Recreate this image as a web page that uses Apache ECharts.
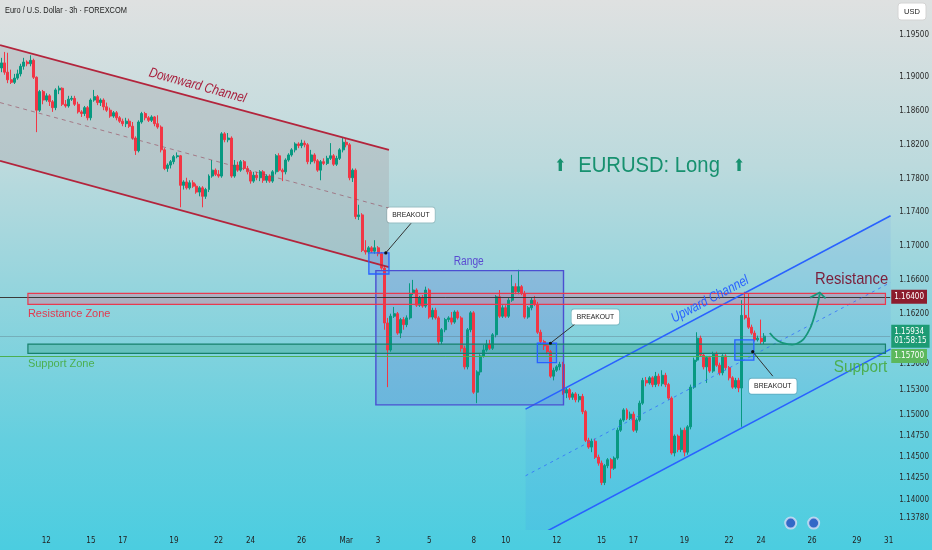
<!DOCTYPE html>
<html><head><meta charset="utf-8">
<script src="https://cdn.jsdelivr.net/npm/echarts@6/dist/echarts.min.js"></script>
<style>html,body{margin:0;padding:0;background:#fff}#c{width:932px;height:550px}</style>
</head><body><div id="c"></div>
<script>
// ---------- data ----------
const candles = [ // [open, close, low, high], 3h bars starting Tue Feb 10 06:00
[1.1911,1.1917,1.1906,1.1923],[1.1917,1.1906,1.1903,1.1930],[1.1906,1.1897,1.1893,1.1929],[1.1897,1.1894,1.1892,1.1909],[1.1894,1.1899,1.1892,1.1904],
[1.1899,1.1904,1.1897,1.1909],[1.1904,1.1913,1.1901,1.1916],[1.1913,1.1918,1.1909,1.1923],[1.1918,1.1916,1.1913,1.1920],[1.1916,1.1920,1.1913,1.1926],
[1.1920,1.1900,1.1898,1.1922],[1.1900,1.1861,1.1835,1.1901],[1.1861,1.1883,1.1859,1.1885],[1.1883,1.1873,1.1868,1.1885],[1.1873,1.1878,1.1871,1.1881],
[1.1878,1.1871,1.1866,1.1880],[1.1871,1.1864,1.1859,1.1873],[1.1864,1.1885,1.1861,1.1887],[1.1885,1.1887,1.1880,1.1890],[1.1887,1.1868,1.1866,1.1888],
[1.1868,1.1866,1.1864,1.1873],[1.1866,1.1874,1.1864,1.1878],[1.1874,1.1875,1.1872,1.1878],[1.1875,1.1868,1.1866,1.1878],[1.1868,1.1859,1.1857,1.1871],
[1.1859,1.1857,1.1853,1.1861],[1.1857,1.1864,1.1854,1.1866],[1.1864,1.1852,1.1849,1.1866],[1.1852,1.1873,1.1849,1.1875],[1.1873,1.1877,1.1871,1.1885],
[1.1877,1.1870,1.1867,1.1879],[1.1870,1.1873,1.1866,1.1875],[1.1873,1.1865,1.1861,1.1875],[1.1865,1.1861,1.1859,1.1870],[1.1861,1.1854,1.1852,1.1864],
[1.1854,1.1858,1.1852,1.1860],[1.1858,1.1852,1.1849,1.1860],[1.1852,1.1848,1.1846,1.1854],[1.1848,1.1845,1.1842,1.1851],[1.1845,1.1848,1.1841,1.1852],
[1.1848,1.1842,1.1840,1.1851],[1.1842,1.1828,1.1826,1.1847],[1.1828,1.1813,1.1808,1.1830],[1.1813,1.1847,1.1811,1.1849],[1.1847,1.1857,1.1845,1.1859],
[1.1857,1.1852,1.1849,1.1859],[1.1852,1.1849,1.1847,1.1854],[1.1849,1.1853,1.1847,1.1855],[1.1853,1.1845,1.1842,1.1854],[1.1845,1.1841,1.1839,1.1855],
[1.1841,1.1814,1.1811,1.1843],[1.1814,1.1792,1.1790,1.1816],[1.1792,1.1796,1.1788,1.1798],[1.1796,1.1800,1.1792,1.1802],[1.1800,1.1806,1.1797,1.1808],
[1.1806,1.1807,1.1804,1.1811],[1.1807,1.1772,1.1746,1.1808],[1.1772,1.1776,1.1767,1.1778],[1.1776,1.1769,1.1767,1.1781],[1.1769,1.1775,1.1767,1.1778],
[1.1775,1.1771,1.1769,1.1778],[1.1771,1.1764,1.1762,1.1774],[1.1764,1.1769,1.1759,1.1771],[1.1769,1.1759,1.1746,1.1771],[1.1759,1.1767,1.1756,1.1769],
[1.1767,1.1783,1.1764,1.1785],[1.1783,1.1790,1.1781,1.1802],[1.1790,1.1785,1.1783,1.1792],[1.1785,1.1783,1.1781,1.1790],[1.1783,1.1833,1.1781,1.1835],
[1.1833,1.1826,1.1823,1.1835],[1.1826,1.1828,1.1823,1.1834],[1.1828,1.1783,1.1781,1.1830],[1.1783,1.1796,1.1781,1.1802],[1.1796,1.1790,1.1788,1.1800],
[1.1790,1.1800,1.1788,1.1802],[1.1800,1.1792,1.1790,1.1802],[1.1792,1.1788,1.1785,1.1795],[1.1788,1.1777,1.1774,1.1790],[1.1777,1.1784,1.1775,1.1788],
[1.1784,1.1781,1.1778,1.1788],[1.1781,1.1788,1.1777,1.1790],[1.1788,1.1778,1.1775,1.1790],[1.1778,1.1783,1.1775,1.1785],[1.1783,1.1777,1.1775,1.1785],
[1.1777,1.1788,1.1775,1.1790],[1.1788,1.1807,1.1785,1.1809],[1.1807,1.1790,1.1788,1.1810],[1.1790,1.1788,1.1777,1.1792],[1.1788,1.1802,1.1785,1.1804],
[1.1802,1.1808,1.1800,1.1810],[1.1808,1.1814,1.1806,1.1816],[1.1814,1.1821,1.1811,1.1823],[1.1821,1.1819,1.1816,1.1823],[1.1819,1.1822,1.1816,1.1826],
[1.1822,1.1820,1.1817,1.1825],[1.1820,1.1800,1.1797,1.1822],[1.1800,1.1808,1.1797,1.1814],[1.1808,1.1801,1.1798,1.1810],[1.1801,1.1790,1.1788,1.1803],
[1.1790,1.1800,1.1778,1.1802],[1.1800,1.1798,1.1796,1.1804],[1.1798,1.1804,1.1796,1.1807],[1.1804,1.1807,1.1802,1.1822],[1.1807,1.1797,1.1795,1.1809],
[1.1797,1.1804,1.1795,1.1807],[1.1804,1.1814,1.1802,1.1816],[1.1814,1.1823,1.1811,1.1828],[1.1823,1.1820,1.1817,1.1828],[1.1820,1.1781,1.1778,1.1822],
[1.1781,1.1790,1.1776,1.1792],[1.1790,1.1735,1.1732,1.1792],[1.1735,1.1737,1.1731,1.1749],[1.1737,1.1695,1.1693,1.1739],[1.1695,1.1693,1.1690,1.1707],
[1.1693,1.1698,1.1691,1.1700],[1.1698,1.1694,1.1692,1.1700],[1.1694,1.1698,1.1691,1.1707],[1.1698,1.1691,1.1688,1.1700],[1.1691,1.1674,1.1672,1.1693],
[1.1674,1.1609,1.1601,1.1677],[1.1609,1.1577,1.1533,1.1615],[1.1577,1.1617,1.1575,1.1620],[1.1617,1.1620,1.1615,1.1628],[1.1620,1.1597,1.1595,1.1622],
[1.1597,1.1613,1.1591,1.1615],[1.1613,1.1607,1.1601,1.1616],[1.1607,1.1615,1.1604,1.1618],[1.1615,1.1644,1.1613,1.1656],[1.1644,1.1648,1.1642,1.1660],
[1.1648,1.1630,1.1628,1.1650],[1.1630,1.1639,1.1628,1.1641],[1.1639,1.1629,1.1627,1.1642],[1.1629,1.1648,1.1627,1.1652],[1.1648,1.1616,1.1614,1.1650],
[1.1616,1.1624,1.1613,1.1627],[1.1624,1.1615,1.1613,1.1627],[1.1615,1.1587,1.1583,1.1617],[1.1587,1.1601,1.1584,1.1603],[1.1601,1.1613,1.1598,1.1615],
[1.1613,1.1615,1.1610,1.1617],[1.1615,1.1610,1.1607,1.1622],[1.1610,1.1622,1.1608,1.1624],[1.1622,1.1615,1.1613,1.1624],[1.1615,1.1579,1.1575,1.1617],
[1.1579,1.1557,1.1554,1.1582],[1.1557,1.1601,1.1554,1.1603],[1.1601,1.1621,1.1598,1.1623],[1.1621,1.1527,1.1525,1.1623],[1.1527,1.1551,1.1514,1.1553],
[1.1551,1.1570,1.1547,1.1572],[1.1570,1.1577,1.1568,1.1583],[1.1577,1.1584,1.1575,1.1589],[1.1584,1.1579,1.1577,1.1589],[1.1579,1.1595,1.1577,1.1597],
[1.1595,1.1640,1.1592,1.1642],[1.1640,1.1617,1.1615,1.1648],[1.1617,1.1627,1.1615,1.1630],[1.1627,1.1617,1.1615,1.1630],[1.1617,1.1636,1.1615,1.1639],
[1.1636,1.1652,1.1634,1.1666],[1.1652,1.1646,1.1643,1.1656],[1.1646,1.1652,1.1643,1.1672],[1.1652,1.1644,1.1642,1.1654],[1.1644,1.1616,1.1614,1.1647],
[1.1616,1.1627,1.1614,1.1629],[1.1627,1.1636,1.1624,1.1639],[1.1636,1.1631,1.1629,1.1641],[1.1631,1.1598,1.1596,1.1634],[1.1598,1.1587,1.1584,1.1601],
[1.1587,1.1582,1.1577,1.1589],[1.1582,1.1575,1.1572,1.1584],[1.1575,1.1546,1.1544,1.1577],[1.1546,1.1553,1.1541,1.1556],[1.1553,1.1557,1.1551,1.1559],
[1.1557,1.1560,1.1553,1.1563],[1.1560,1.1526,1.1524,1.1563],[1.1526,1.1530,1.1520,1.1532],[1.1530,1.1521,1.1518,1.1532],[1.1521,1.1525,1.1518,1.1527],
[1.1525,1.1518,1.1515,1.1527],[1.1518,1.1522,1.1515,1.1525],[1.1522,1.1504,1.1501,1.1525],[1.1504,1.1470,1.1468,1.1506],[1.1470,1.1462,1.1460,1.1473],
[1.1462,1.1469,1.1456,1.1472],[1.1469,1.1450,1.1448,1.1472],[1.1450,1.1443,1.1440,1.1453],[1.1443,1.1420,1.1417,1.1446],[1.1420,1.1440,1.1417,1.1442],
[1.1440,1.1447,1.1437,1.1449],[1.1447,1.1437,1.1425,1.1449],[1.1437,1.1449,1.1435,1.1451],[1.1449,1.1482,1.1447,1.1485],[1.1482,1.1494,1.1480,1.1496],
[1.1494,1.1506,1.1492,1.1508],[1.1506,1.1496,1.1494,1.1508],[1.1496,1.1501,1.1494,1.1504],[1.1501,1.1482,1.1480,1.1504],[1.1482,1.1494,1.1479,1.1496],
[1.1494,1.1514,1.1492,1.1517],[1.1514,1.1541,1.1512,1.1544],[1.1541,1.1538,1.1534,1.1545],[1.1538,1.1544,1.1536,1.1546],[1.1544,1.1536,1.1533,1.1546],
[1.1536,1.1546,1.1533,1.1551],[1.1546,1.1537,1.1534,1.1549],[1.1537,1.1547,1.1534,1.1553],[1.1547,1.1536,1.1533,1.1550],[1.1536,1.1520,1.1518,1.1538],
[1.1520,1.1455,1.1453,1.1522],[1.1455,1.1475,1.1451,1.1477],[1.1475,1.1459,1.1456,1.1477],[1.1459,1.1482,1.1456,1.1485],[1.1482,1.1456,1.1451,1.1485],
[1.1456,1.1486,1.1453,1.1488],[1.1486,1.1533,1.1483,1.1536],[1.1533,1.1565,1.1531,1.1568],[1.1565,1.1591,1.1563,1.1598],[1.1591,1.1571,1.1569,1.1594],
[1.1571,1.1557,1.1554,1.1573],[1.1557,1.1568,1.1538,1.1570],[1.1568,1.1552,1.1550,1.1570],[1.1552,1.1572,1.1550,1.1575],[1.1572,1.1559,1.1557,1.1575],
[1.1559,1.1550,1.1547,1.1562],[1.1550,1.1570,1.1547,1.1572],[1.1570,1.1556,1.1553,1.1572],[1.1556,1.1544,1.1541,1.1558],[1.1544,1.1533,1.1531,1.1546],
[1.1533,1.1541,1.1531,1.1544],[1.1541,1.1532,1.1527,1.1544],[1.1532,1.1618,1.1486,1.1636],[1.1618,1.1615,1.1613,1.1646],[1.1615,1.1604,1.1602,1.1644],
[1.1604,1.1597,1.1595,1.1607],[1.1597,1.1589,1.1587,1.1600],[1.1589,1.1591,1.1587,1.1594],[1.1591,1.1587,1.1584,1.1613],[1.1587,1.15934,1.1584,1.1597]
];
const barCount = 279; // Tue Feb 10 06:00 .. Tue Mar 31 00:00 (3h bars, forex sessions)
const tickDays   = ['02-12','02-15','02-17','02-19','02-22','02-24','02-26','03-01','03-03','03-05','03-08','03-10','03-12','03-15','03-17','03-19','03-22','03-24','03-26','03-29','03-31'];
const tickLabels = ['12','15','17','19','22','24','26','Mar','3','5','8','10','12','15','17','19','22','24','26','29','31'];
const yTicks = [1.195,1.19,1.186,1.182,1.178,1.174,1.17,1.166,1.162,1.156,1.153,1.15,1.1475,1.145,1.1425,1.14,1.1378];
const yMin = 1.13638, yMax = 1.19915;
const resistancePrice = 1.164, supportPrice = 1.157, lastPrice = 1.15934, countdown = '01:58:15';

// drawings, in [bar index, price]
const downUpper = [[-0.5,1.1938],[121.4,1.1814]];
const downLower = [[-0.5,1.1801],[121.4,1.1675]];
const downMid   = [[-0.5,1.1870],[121.4,1.1745]];
const upUpper = [[164.2,1.1507],[278.6,1.1736]];
const upLower = [[164.2,1.1349],[278.6,1.1578]];
const upMid   = [[164.2,1.1428],[278.6,1.1657]];
const rangeBox = [117.3,176.1,1.1512,1.1671];
const resistanceZone = [8.25,277,1.1631,1.1644];
const supportZone = [8.25,277,1.1573,1.1584];
const breakoutBoxes = [[115.1,121.4,1.1667,1.1692],[167.9,173.9,1.1562,1.1585],[229.8,235.75,1.1565,1.1589]];
const breakoutLinks = [[[120.4,1.1692],[128.3,1.1727]],[[172.0,1.1585],[179.8,1.1608]],[[235.4,1.1575],[241.7,1.1546]]];
const breakoutLabels = [[128.3,1.1737],[186.1,1.1616],[241.7,1.1534]];
const projection = [[240.75,1.1597],[243.25,1.1588],[246.4,1.1584],[249.5,1.1585],[252.6,1.1597],[254.8,1.1618],[256.4,1.1643]];
const projectionHead = [[253.4,1.1639],[256.4,1.1645],[258.25,1.1638]];
const events = [[247.3,1.1372],[254.5,1.1372]];
const txtDown = [61.4,1.1890], txtUp = [222,1.1637], txtRange = [146.4,1.1681];
const txtResZone = [8.25,1.1620], txtSupZone = [8.25,1.1560];
const txtRes = [266.4,1.1661], txtSup = [269.2,1.1556];
const txtTitle = [202.9,1.1795], txtArrows = [[175.1,1.1794],[231.1,1.1794]];

// ---------- categories (3h bars, weekends skipped) ----------
const categories = [];
(function () {
  let t = Date.UTC(2026, 1, 10, 6);
  while (categories.length < barCount) {
    const d = new Date(t), wd = d.getUTCDay(), h = d.getUTCHours();
    const open = (wd >= 1 && wd <= 4) || (wd === 5 && h <= 15) || (wd === 0 && h >= 18);
    if (open) {
      const p = n => String(n).padStart(2, '0');
      categories.push(p(d.getUTCMonth() + 1) + '-' + p(d.getUTCDate()) + ' ' + p(h) + ':00');
    }
    t += 3 * 3600e3;
  }
})();
const labelAt = {};
tickDays.forEach((d, k) => { const i = categories.findIndex(c => c.startsWith(d)); if (i >= 0) labelAt[i] = tickLabels[k]; });

const FONT = "'Liberation Sans', Arial, sans-serif";
const NARROW = "'Liberation Sans Narrow','DejaVu Sans Condensed','Liberation Sans',sans-serif";

// ---------- helpers ----------
function rectEl(api, b, style) {
  const a = api.coord([b[0], b[3]]), c = api.coord([b[1], b[2]]);
  return { type: 'rect', shape: { x: a[0], y: a[1], width: c[0] - a[0], height: c[1] - a[1] }, style: style };
}
function polyEl(api, pts, style, smooth) {
  return { type: 'polyline', shape: { points: pts.map(p => api.coord(p)), smooth: smooth || 0 }, style: Object.assign({ fill: null }, style) };
}
function polygonEl(api, pts, style) {
  return { type: 'polygon', shape: { points: pts.map(p => api.coord(p)) }, style: style };
}
function textEl(api, p, text, o) {
  const c = api.coord(p);
  return { type: 'text', x: c[0], y: c[1], rotation: (o.rot || 0) * Math.PI / 180, scaleX: o.sx || 1,
    style: Object.assign({ text: text, fill: o.color, fontSize: o.size, fontFamily: o.family || FONT,
      fontStyle: o.italic ? 'italic' : 'normal', fontWeight: o.weight || 'normal',
      align: o.align || 'center', verticalAlign: 'middle' }, o.extra || {}) };
}
function drawSeries(z, build) {
  return { type: 'custom', xAxisIndex: 1, yAxisIndex: 0, data: [[0, 1.16]], clip: true, silent: true, z: z,
    renderItem: (params, api) => ({ type: 'group', children: build(api) }) };
}

const fills = drawSeries(1, api => [
  polygonEl(api, [downUpper[0], downUpper[1], downLower[1], downLower[0]], { fill: 'rgba(170,172,176,0.42)' }),
  polygonEl(api, [upUpper[0], upUpper[1], upLower[1], upLower[0]], { fill: 'rgba(41,98,255,0.07)' }),
  rectEl(api, rangeBox, { fill: 'rgba(85,90,215,0.22)' }),
  rectEl(api, resistanceZone, { fill: 'rgba(215,120,150,0.40)' }),
  rectEl(api, supportZone, { fill: 'rgba(40,160,125,0.32)' })
].concat(breakoutBoxes.map(b => rectEl(api, b, { fill: 'rgba(41,98,255,0.22)' }))));

const strokes = drawSeries(5, api => {
  const out = [
    polyEl(api, downUpper, { stroke: '#b3243c', lineWidth: 1.8 }),
    polyEl(api, downLower, { stroke: '#b3243c', lineWidth: 1.8 }),
    polyEl(api, downMid, { stroke: 'rgba(150,70,90,0.6)', lineWidth: 1, lineDash: [4, 4] }),
    polyEl(api, upUpper, { stroke: '#2962ff', lineWidth: 1.6 }),
    polyEl(api, upLower, { stroke: '#2962ff', lineWidth: 1.6 }),
    polyEl(api, upMid, { stroke: 'rgba(41,98,255,0.7)', lineWidth: 1, lineDash: [3, 4] }),
    rectEl(api, rangeBox, { fill: null, stroke: '#4b4fd1', lineWidth: 1.4 }),
    rectEl(api, resistanceZone, { fill: null, stroke: '#e8394f', lineWidth: 1.2 }),
    rectEl(api, supportZone, { fill: null, stroke: '#17806c', lineWidth: 1.2 })
  ];
  breakoutBoxes.forEach(b => out.push(rectEl(api, b, { fill: null, stroke: '#2962ff', lineWidth: 1.3 })));
  breakoutLinks.forEach(l => {
    out.push(polyEl(api, l, { stroke: '#333', lineWidth: 1 }));
    const c = api.coord(l[0]);
    out.push({ type: 'circle', shape: { cx: c[0], cy: c[1], r: 1.6 }, style: { fill: '#111' } });
  });
  breakoutLabels.forEach(p => out.push(textEl(api, p, 'BREAKOUT', { color: '#222', size: 8, sx: 0.85,
    extra: { backgroundColor: '#ffffff', padding: [4, 6, 3, 6], borderRadius: 3, borderColor: 'rgba(0,0,0,0.12)', borderWidth: 1 } })));
  out.push(textEl(api, txtDown, 'Downward Channel', { color: '#a81f3c', size: 14, italic: true, rot: -15.3, sx: 0.82 }));
  out.push(textEl(api, txtUp, 'Upward Channel', { color: '#2962ff', size: 14, italic: true, rot: 27.8, sx: 0.82 }));
  out.push(textEl(api, txtRange, 'Range', { color: '#5a4bd1', size: 12, sx: 0.85 }));
  out.push(textEl(api, txtResZone, 'Resistance Zone', { color: '#e2394f', size: 11, align: 'left' }));
  out.push(textEl(api, txtSupZone, 'Support Zone', { color: '#4caf50', size: 11, align: 'left' }));
  out.push(textEl(api, txtRes, 'Resistance', { color: '#7b1e3a', size: 17, sx: 0.87 }));
  out.push(textEl(api, txtSup, 'Support', { color: '#4cae4f', size: 17, sx: 0.9 }));
  out.push(textEl(api, txtTitle, 'EURUSD: Long', { color: '#17916f', size: 22, sx: 0.92 }));
  txtArrows.forEach(p => out.push(textEl(api, p, '⬆', { color: '#17916f', size: 17, sx: 0.85, family: "'DejaVu Sans', sans-serif" })));
  out.push(polyEl(api, projection, { stroke: '#16967a', lineWidth: 1.8 }, 0.5));
  out.push(polyEl(api, projectionHead, { stroke: '#16967a', lineWidth: 1.8 }));
  return out;
});

const tag = (bg, text) => ({ show: true, position: 'end', distance: 1, formatter: text, backgroundColor: bg, color: '#fff',
  padding: [3, 3, 2, 3], fontSize: 8, lineHeight: 9, fontFamily: NARROW });

const option = {
  animation: false,
  backgroundColor: { type: 'linear', x: 0, y: 0, x2: 0, y2: 1, colorStops: [
    { offset: 0, color: '#dfe1e1' }, { offset: 0.3, color: '#bcdadd' }, { offset: 0.55, color: '#90d4dd' },
    { offset: 0.8, color: '#64cfdf' }, { offset: 1, color: '#4bcde0' }] },
  grid: { left: 0, right: 39, top: 0, bottom: 20 },
  graphic: [
    { type: 'text', x: 5, y: 5, scaleX: 0.78, style: { text: 'Euro / U.S. Dollar · 3h · FOREXCOM', fill: '#1b1b1b', fontSize: 9.5, fontFamily: FONT } },
    { type: 'group', x: 898, y: 3, children: [
      { type: 'rect', shape: { x: 0, y: 0, width: 28, height: 17, r: 3 }, style: { fill: '#fff', stroke: '#d4d4d4' } },
      { type: 'text', x: 14, y: 9, style: { text: 'USD', fontSize: 7.5, fill: '#222', fontFamily: FONT, align: 'center', verticalAlign: 'middle' } }] }
  ],
  xAxis: [
    { type: 'category', data: categories, boundaryGap: true, axisLine: { show: false }, axisTick: { show: false }, splitLine: { show: false },
      axisLabel: { interval: i => labelAt[i] !== undefined, formatter: (v, i) => labelAt[i] || '', color: '#222', fontSize: 8, fontFamily: NARROW, margin: 7, hideOverlap: false } },
    { type: 'value', min: -0.5, max: barCount - 0.5, show: false }
  ],
  yAxis: { type: 'value', position: 'right', min: yMin, max: yMax, axisLine: { show: false }, axisTick: { show: false }, splitLine: { show: false },
    axisLabel: { customValues: yTicks, formatter: v => v.toFixed(5), color: '#2a2a2a', fontSize: 8, fontFamily: NARROW, margin: 9 } },
  series: [
    fills,
    { type: 'line', xAxisIndex: 1, yAxisIndex: 0, data: [[-0.5, lastPrice]], symbol: 'none', silent: true, z: 2,
      lineStyle: { opacity: 0 },
      markLine: { symbol: ['none', 'none'], silent: true, animation: false, precision: 5, data: [
        { yAxis: resistancePrice, lineStyle: { color: '#3a3a3a', width: 1, type: 'solid' }, label: tag('#8c1c2d', resistancePrice.toFixed(5)) },
        { yAxis: lastPrice, lineStyle: { color: 'rgba(90,110,120,0.35)', width: 1, type: 'solid' }, label: tag('#1d9b74', lastPrice.toFixed(5) + '\n' + countdown) },
        { yAxis: supportPrice, lineStyle: { color: '#4caf50', width: 1, type: 'solid' }, label: tag('#5cb85c', supportPrice.toFixed(5)) }
      ] } },
    { type: 'candlestick', xAxisIndex: 0, yAxisIndex: 0, data: candles, barWidth: '78%', z: 3,
      itemStyle: { color: '#089981', color0: '#f23645', borderColor: '#089981', borderColor0: '#f23645', borderWidth: 1 } },
    strokes,
    { type: 'scatter', xAxisIndex: 1, yAxisIndex: 0, data: events, symbol: 'circle', symbolSize: 11, z: 6, silent: true,
      itemStyle: { color: '#2b4fc0', borderColor: '#d6def5', borderWidth: 2 } }
  ]
};
const chart = echarts.init(document.getElementById('c'), null, { renderer: 'canvas' });
chart.setOption(option);
</script></body></html>
